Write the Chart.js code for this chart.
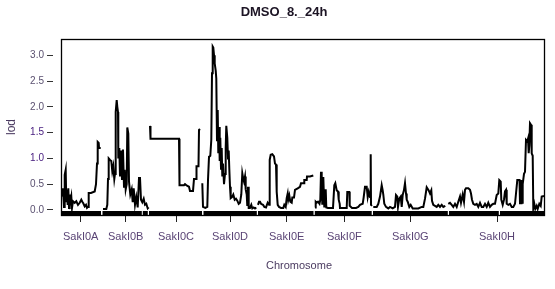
<!DOCTYPE html>
<html><head><meta charset="utf-8">
<script src="https://cdn.jsdelivr.net/npm/chart.js@4/dist/chart.umd.min.js"></script>
<style>html,body{margin:0;padding:0;background:#fff}canvas{display:block}</style>
</head><body>
<canvas id="c" width="555" height="289"></canvas>
<script>
const chartTitle = 'DMSO_8._24h';
const chrNames = ['SakI0A','SakI0B','SakI0C','SakI0D','SakI0E','SakI0F','SakI0G','SakI0H'];
const chrMid = [80.7,125.7,176,230,286.7,344.3,410.3,497];
const yTicks = [0,0.5,1,1.5,2,2.5,3];

const posA = [62,63,64,64.7,65.7,66.3,67,67.7,68.3,69,69.7,70.3,71.3,72,73,74.7,76.3,78,79.7,81.3,82.3,83.3,84.7,86,87,88,88.7,91,94.7,96,97,97.7,98.7,99,100.7];
const lodA = [0.26,0.42,0.06,0.68,0.78,0.15,0.39,0.1,0.42,0.04,0.3,0.15,0.26,0.04,0.17,0.14,0.17,0.1,0.14,0.2,0.16,0.13,0.07,0.1,0.04,0.06,0.33,0.33,0.36,0.5,0.9,1.32,1.3,1.2,1.2];

const posB = [103,106.3,107.3,108,108.7,110,111.3,112.3,113.3,114.3,115,115.7,116.7,117.3,118,118.3,119.3,120,121,122,123,124,124.7,125.7,126.7,127.3,128.3,129,130.3,131.7,132.7,133.7,135,136.3,137.7,139,140,141,142.3,143.7,145,146.3,147.7,148.7];
const lodB = [0.02,0.02,0.1,0.6,1.0,0.97,0.95,0.75,0.85,0.6,0.7,1.9,2.13,2.0,1.9,1.0,1.2,0.65,1.15,0.58,1.17,0.45,0.78,0.4,0.5,1.6,1.48,0.55,0.3,0.4,0.15,0.42,0.1,0.25,0.05,0.62,0.62,0.2,0.15,0.22,0.1,0.12,0.03,0.05];

const posC = [150,150.5,179,179.5,184,185,187,189,190,193,194,196,196.5,198.5,199,200];
const lodC = [1.63,1.38,1.38,0.48,0.48,0.5,0.47,0.45,0.37,0.37,0.6,0.6,0.85,0.85,1.55,1.57];

const posD = [202.3,203,205.3,207.3,208,209,210.3,211.3,212,212.7,213.3,214,214.7,215.7,216.3,217,217.7,218.3,219,219.7,220.3,221,221.7,222.3,223,224,225,225.7,226.3,227.3,228,228.7,229.3,230,230.7,232,233.3,234.7,236,237.3,238.7,240,241.3,242.3,243.3,244,245,245.7,246.7,247.3,248,248.7,250,251.3,252.3,253.7,255,256.3];
const lodD = [0.52,0.06,0.04,0.06,0.58,1.03,1.05,1.36,2.65,3.17,3.15,3.0,2.84,2.7,2.55,1.35,1.94,1.1,1.61,0.95,1.4,0.8,1.2,0.65,0.9,0.5,0.7,1.2,1.63,1.4,1.0,1.15,0.8,0.45,0.23,0.25,0.3,0.2,0.22,0.18,0.12,0.14,0.3,0.71,0.6,0.55,0.65,0.4,0.3,0.08,0.45,0.04,0.04,0.1,0.03,0.05,0.03,0.05];

const posE = [258,259,260,261,263,264.3,266,267.7,269,269.7,270.7,272.3,274,275,276,276.7,277.7,279,281,283.3,284.3,285.7,286.7,287.7,288.3,289.3,290.3,291.7,292.3,294,295,297.7,300,301,304,304.3,306.7,307,310,313.3];
const lodE = [0.1,0.16,0.16,0.12,0.1,0.06,0.05,0.14,0.1,0.97,1.07,1.08,1.04,0.9,0.88,0.35,0.1,0.06,0.04,0.04,0.1,0.06,0.23,0.32,0.2,0.28,0.16,0.14,0.24,0.24,0.39,0.42,0.45,0.52,0.52,0.58,0.58,0.65,0.65,0.67];

const posF = [315,315.7,316.7,318,319.5,320.3,321,321.7,322.3,323.3,324.3,325.7,326.3,328,331,333,334.3,335.3,336.7,338,338.7,339.7,340,343,346.7,347.3,349.3,349.7,352,356,358.3,360,362.7,363.7,365,366.7,367.7,368.7,370,370.7,371,372];
const lodF = [0.05,0.16,0.14,0.16,0.12,0.2,0.74,0.6,0.1,0.64,0.05,0.4,0.05,0.04,0.04,0.04,0.48,0.52,0.38,0.36,0.2,0.12,0.04,0.04,0.04,0.35,0.35,0.08,0.04,0.04,0.06,0.1,0.12,0.25,0.45,0.45,0.25,0.35,0.25,1.08,0.1,0.08];

const posG = [373.3,376.7,378.3,380,381.7,382.7,383.3,384.3,386,388.3,390,392.7,395,396,397.3,398,399.3,400.7,401.7,402.7,404,405,406,406.7,407.7,409.3,410.7,412.7,415,418.3,421.7,423.3,425,426.7,428.7,430,431.3,432,433.3,436.7,438.3,440,441.7,443.3,445.3];
const lodG = [0.06,0.06,0.12,0.26,0.48,0.38,0.3,0.12,0.06,0.03,0.06,0.03,0.06,0.29,0.26,0.06,0.22,0.26,0.06,0.29,0.39,0.52,0.32,0.2,0.16,0.06,0.1,0.03,0.03,0.03,0.06,0.06,0.22,0.44,0.38,0.32,0.38,0.18,0.1,0.06,0.1,0.06,0.1,0.06,0.08];

const posH = [448.3,450,451.7,453.3,455,456.7,458.3,460,461,462.7,464,465,466,468.3,470,471,472,473.3,475,476.7,478.3,480,481.7,483.3,485,486.7,488.3,490,491.7,493.3,495,496.7,498.3,499.3,500.7,501.3,502.7,504,505,506,506.7,508.3,510,511.7,513.3,515,516,517.3,519.5,520,520.5,521,521.5,522,522.7,524,525,526,527.3,528,528.7,529.3,530,531,531.7,532.7,533.3,534.3,535.3,536.7,537.7,539.3,540.7,541.7,544];
const lodH = [0.12,0.14,0.1,0.06,0.12,0.06,0.16,0.26,0.14,0.3,0.16,0.39,0.42,0.42,0.39,0.32,0.2,0.12,0.1,0.12,0.06,0.14,0.06,0.06,0.12,0.06,0.14,0.06,0.1,0.12,0.12,0.29,0.32,0.58,0.55,0.2,0.1,0.2,0.36,0.39,0.12,0.1,0.12,0.06,0.06,0.12,0.32,0.58,0.58,0.13,0.58,0.13,0.58,0.14,0.5,0.7,0.74,1.36,1.33,1.38,1.1,1.25,1.68,1.65,1.1,1.05,0.03,0.12,0.02,0.08,0.02,0.12,0.08,0.26,0.27];

const rugSpans = [[61.5,101],[102.5,141.8],[142.8,147.8],[149,202],[203.5,256.8],[258,313.5],[314.8,371.7],[373,447.8],[449,498.8],[500,545]];
const rugLevel = -0.058;

const FONT = "'Liberation Sans', Arial, Helvetica, sans-serif";
const chrPos = [posA,posB,posC,posD,posE,posF,posG,posH];
const chrLod = [lodA,lodB,lodC,lodD,lodE,lodF,lodG,lodH];

const datasets = [];
chrPos.forEach((p, k) => {
  datasets.push({
    label: chrNames[k],
    data: p.map((x, i) => ({x: x, y: chrLod[k][i]})),
    borderColor: '#000', borderWidth: 2, pointRadius: 0, tension: 0,
    borderJoinStyle: 'miter', fill: false
  });
});
rugSpans.forEach(s => {
  datasets.push({
    label: 'markers',
    data: [{x: s[0], y: rugLevel}, {x: s[1], y: rugLevel}],
    borderColor: '#000', borderWidth: 4, pointRadius: 0, borderCapStyle: 'butt'
  });
});

const boxPlugin = {
  id: 'box',
  afterDraw(chart) {
    const {ctx, chartArea: a} = chart;
    ctx.save();
    ctx.strokeStyle = '#000';
    ctx.lineWidth = 1.3;
    ctx.strokeRect(a.left + 8.5, a.top + 0.5, a.right - a.left - 9, a.bottom - a.top);
    ctx.fillStyle = '#1c1424';
    ctx.font = 'bold 13px ' + FONT;
    ctx.textAlign = 'center';
    ctx.textBaseline = 'middle';
    ctx.fillText(chartTitle, 284, 12);
    ctx.restore();
  }
};

new Chart(document.getElementById('c'), {
  type: 'line',
  data: {datasets},
  options: {
    responsive: false, animation: false, devicePixelRatio: 1,
    layout: {padding: {top: 39, right: 10, left: 0, bottom: 0}},
    plugins: {legend: {display: false}, tooltip: {enabled: false}, title: {display: false}},
    scales: {
      x: {
        type: 'linear', min: 53, max: 545,
        afterBuildTicks: s => { s.ticks = chrMid.map(v => ({value: v})); },
        afterFit: s => { s.height = 74; },
        ticks: {
          autoSkip: false, maxRotation: 0, padding: 8,
          font: {family: FONT, size: 11}, color: '#5a4475',
          callback: (v, i) => chrNames[i]
        },
        grid: {drawOnChartArea: false, drawTicks: true, tickLength: 7, color: '#000', tickColor: '#222'},
        border: {display: false},
        title: {display: true, text: 'Chromosome', font: {family: FONT, size: 11}, color: '#4a3a60', padding: {top: 0, bottom: 16}}
      },
      y: {
        type: 'linear', min: -0.097, max: 3.314,
        afterBuildTicks: s => { s.ticks = yTicks.map(v => ({value: v})); },
        afterFit: s => { s.width = 53; },
        ticks: {
          padding: 3, font: {family: FONT, size: 10},
          color: c => (c.tick && (c.tick.value === 1 || c.tick.value === 1.5)) ? '#4a2080' : '#5a5070',
          callback: v => Number(v).toFixed(1)
        },
        grid: {drawOnChartArea: false, drawTicks: true, tickLength: 6, tickColor: '#333'},
        border: {display: false},
        title: {display: true, text: 'lod', font: {family: FONT, size: 12}, color: '#4a3a60', padding: {top: 4, bottom: 0}}
      }
    }
  },
  plugins: [boxPlugin]
});
</script>
</body></html>
